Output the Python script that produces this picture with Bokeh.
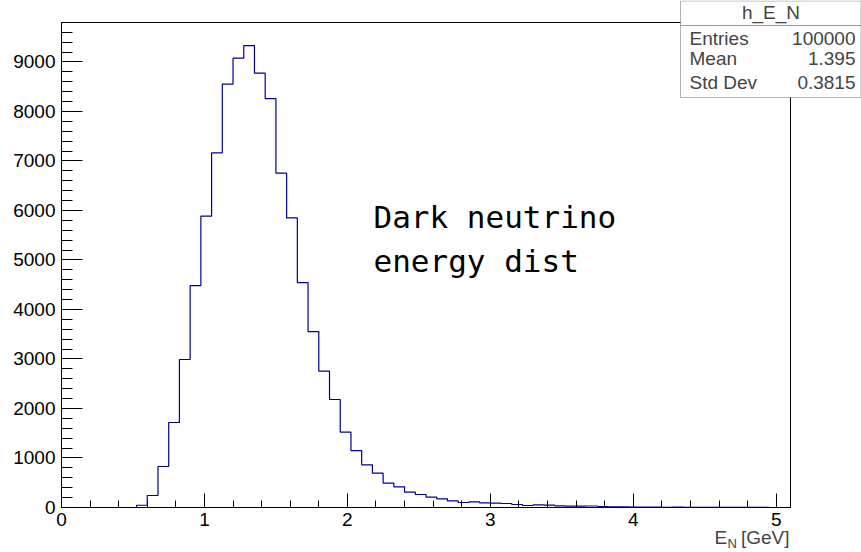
import numpy as np
from bokeh.plotting import figure
from bokeh.models import Range1d, FixedTicker, Label, BoxAnnotation
from bokeh.embed import file_html
from bokeh.resources import INLINE

# ---- data -------------------------------------------------------------
HIST_NAME = "h_E_N"
BIN_LO, BIN_HI, N_BINS = 0.0, 5.1, 68
counts = [0, 0, 0, 0, 0, 0, 0, 45, 242, 828,
          1717, 2989, 4483, 5884, 7163, 8550, 9075, 9330, 8772, 8260,
          6753, 5850, 4544, 3554, 2754, 2181, 1522, 1150, 862, 694,
          493, 418, 311, 263, 210, 176, 135, 101, 115, 95,
          88, 81, 61, 40, 55, 47, 34, 27, 27, 30,
          20, 15, 12, 10, 8, 7, 5, 6, 4, 3,
          3, 2, 2, 1, 1, 1, 0, 0]
stats_labels = ["Entries", "Mean", "Std Dev"]
stats_values = ["100000", "1.395", "0.3815"]
x_major = [0, 1, 2, 3, 4, 5]
y_major = [0, 1000, 2000, 3000, 4000, 5000, 6000, 7000, 8000, 9000]
annotation_lines = ["Dark neutrino", "energy dist"]
x_title_main, x_title_sub, x_title_unit = "E", "N", "[GeV]"

edges = np.linspace(BIN_LO, BIN_HI, N_BINS + 1)
ymax = max(counts) * 1.05

# ---- page layout (pixels) ---------------------------------------------
W, H = 861, 552
FL, FR, FT, FB = 61, 790, 22, 507          # ROOT frame edges
sx = (BIN_HI - BIN_LO) / (FR - FL)
sy = ymax / (FB - FT)
x_start, x_end = BIN_LO - FL * sx, BIN_LO + (W - FL) * sx
y_start, y_end = -(H - FB) * sy, FB * sy

def dx(px):
    return BIN_LO + (px - FL) * sx

def dy(py):
    return (FB - py) * sy

# ---- figure -----------------------------------------------------------
p = figure(width=W, height=H, output_backend="svg", toolbar_location=None,
           x_range=Range1d(x_start, x_end), y_range=Range1d(y_start, y_end),
           min_border=0)
p.background_fill_color = "white"
p.border_fill_color = "white"
p.outline_line_color = None
p.grid.visible = False

FONT = "Liberation Sans"
FS = "19px"

xminor = [round(v, 2) for v in np.arange(0, 5.1, 0.2) if round(v, 2) not in x_major]
yminor = [v for v in range(0, 9800, 200) if v not in y_major]

p.xaxis.ticker = FixedTicker(ticks=x_major, minor_ticks=xminor)
p.yaxis.ticker = FixedTicker(ticks=y_major, minor_ticks=yminor)
p.xaxis.fixed_location = 0
p.yaxis.fixed_location = BIN_LO
p.xaxis.bounds = (BIN_LO, BIN_HI)
p.yaxis.bounds = (0, ymax)
for ax in (p.xaxis[0], p.yaxis[0]):
    ax.axis_line_color = "black"
    ax.major_tick_line_color = "black"
    ax.minor_tick_line_color = "black"
    ax.major_tick_out = 0
    ax.minor_tick_out = 0
    ax.major_label_text_font = FONT
    ax.major_label_text_font_size = FS
    ax.major_label_text_color = "black"
p.yaxis.major_tick_in = 21
p.yaxis.minor_tick_in = 11
p.yaxis.major_label_standoff = 6
p.xaxis.major_tick_in = 14
p.xaxis.minor_tick_in = 7
p.xaxis.major_label_standoff = 5

# frame box
p.quad(left=[BIN_LO], right=[BIN_HI], bottom=[0], top=[ymax],
       fill_color=None, line_color="black", line_width=1)

# histogram outline
xs = list(edges)
ys = list(counts) + [counts[-1]]
p.step(x=xs, y=ys, mode="after", line_color="#000099", line_width=1.2)

# annotation text
for t, yb in zip(annotation_lines, [216, 260]):
    p.add_layout(Label(x=dx(373), y=dy(yb), text=t,
                       text_font="DejaVu Sans Mono", text_font_size="31px",
                       text_color="black", text_baseline="alphabetic"))

# x axis title  E_N [GeV]
p.add_layout(Label(x=dx(714), y=dy(536.5), text=x_title_main, text_font=FONT,
                   text_font_size=FS, text_baseline="alphabetic"))
p.add_layout(Label(x=dx(727), y=dy(542.5), text=x_title_sub, text_font=FONT,
                   text_font_size="13px", text_baseline="alphabetic"))
p.add_layout(Label(x=dx(789), y=dy(536.5), text=x_title_unit, text_font=FONT,
                   text_font_size=FS, text_baseline="alphabetic",
                   text_align="right"))

# stats box
p.add_layout(BoxAnnotation(left=dx(680), right=dx(860.5), top=dy(0.5), bottom=dy(25),
                           fill_color="white", fill_alpha=1.0,
                           line_color="black", line_width=1, level="overlay"))
p.add_layout(BoxAnnotation(left=dx(680), right=dx(860.5), top=dy(25), bottom=dy(97),
                           fill_color="white", fill_alpha=1.0,
                           line_color="black", line_width=1, level="overlay"))
p.add_layout(Label(x=dx(770.5), y=dy(11.5), text=HIST_NAME, text_font=FONT,
                   text_font_size=FS, text_align="center",
                   text_baseline="alphabetic", level="overlay"))
for lab, val, yb in zip(stats_labels, stats_values, [38, 57.5, 82]):
    p.add_layout(Label(x=dx(689), y=dy(yb), text=lab, text_font=FONT,
                       text_font_size=FS, text_baseline="alphabetic",
                       level="overlay"))
    p.add_layout(Label(x=dx(855), y=dy(yb), text=val, text_font=FONT,
                       text_font_size=FS, text_baseline="alphabetic",
                       text_align="right", level="overlay"))

open("out.html", "w").write(file_html(p, INLINE))
